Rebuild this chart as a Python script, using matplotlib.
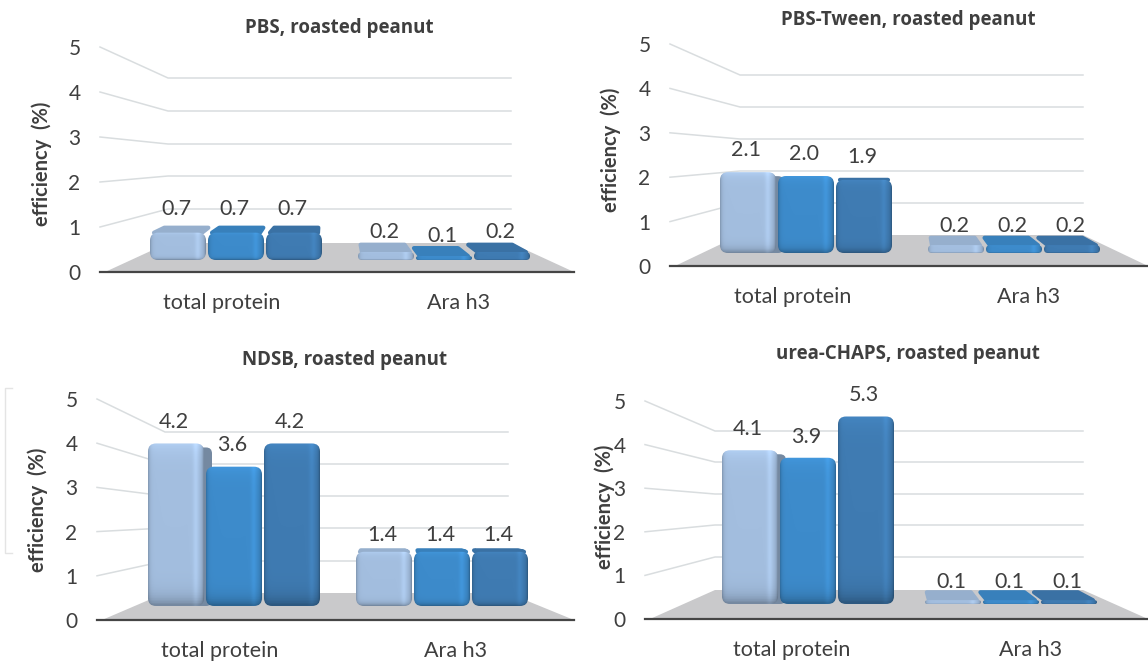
import numpy as np
import matplotlib
matplotlib.use('Agg')
import matplotlib.pyplot as plt
from matplotlib.patches import FancyBboxPatch, Polygon

plt.rcParams['font.family'] = ['Lato', 'DejaVu Sans']

W, H = 1148, 661

## values
categories = ['total protein', 'Ara h3']
pbs_values = [[0.7, 0.7, 0.7], [0.2, 0.1, 0.2]]
tween_values = [[2.1, 2.0, 1.9], [0.2, 0.2, 0.2]]
ndsb_values = [[4.2, 3.6, 4.2], [1.4, 1.4, 1.4]]
urea_values = [[4.1, 3.9, 5.3], [0.1, 0.1, 0.1]]
y_ticks = [0, 1, 2, 3, 4, 5]

titles = ['PBS, roasted peanut', 'PBS-Tween, roasted peanut',
          'NDSB, roasted peanut', 'urea-CHAPS, roasted peanut']

bar_colors = ['#A3BEDF', '#3D8BCB', '#3F7BB2']
text_color = '#3F3F3F'
grid_color = '#D9DDDF'

# layout of every panel in pixels of the picture, label_gap is in points per group
panels = [
  dict(values=pbs_values, title=titles[0], title_xy=(339, 28), left=100, right=574, y0=272, y5=47,
       wall=(168, 511), wall_y=[243, 209, 176, 144, 111, 78], base=260, scale=39,
       groups=(150, 358), cat_x=(222, 459), ylabel=(42, 164), label_gap=(10, 7)),
  dict(values=tween_values, title=titles[1], title_xy=(908, 20), left=670, right=1148, y0=266, y5=44,
       wall=(740, 1083), wall_y=[235, 203, 171, 139, 107, 75], base=253, scale=38.5,
       groups=(720, 928), cat_x=(793, 1029), ylabel=(611, 150), label_gap=(9, 7)),
  dict(values=ndsb_values, title=titles[2], title_xy=(345, 360), left=97, right=574, y0=620, y5=399,
       wall=(165, 508), wall_y=[593, 561, 528, 496, 464, 432], base=606, scale=38.7,
       groups=(148, 356), cat_x=(220, 456), ylabel=(38, 510), label_gap=(8.5, 5)),
  dict(values=urea_values, title=titles[3], title_xy=(908, 354), left=645, right=1148, y0=619, y5=401,
       wall=(715, 1083), wall_y=[590, 557, 525, 494, 462, 431], base=604, scale=37.5,
       groups=(722, 925), cat_x=(792, 1031), ylabel=(605, 507), label_gap=(8, 6)),
]

BAR_W = 58
Y_MAX = 5  # the axis stops at 5, taller bars get cut there


def rect_for(x0, x1, y_bottom, y_top):
  return [x0/W, 1 - y_bottom/H, (x1 - x0)/W, (y_bottom - y_top)/H]


def shaded(color, nx=60, ny=60):
  # soft bevel: dark rim all round, thin highlight near the right edge
  rgb = np.array(matplotlib.colors.to_rgb(color))
  xs = np.linspace(0, 1, nx)
  ys = np.linspace(0, 1, ny)
  px = 1 - 0.18*np.exp(-xs/0.03) - 0.25*np.exp(-(1 - xs)/0.03) + 0.08*np.exp(-((xs - 0.86)/0.05)**2)
  py = 1 - 0.28*np.exp(-ys/0.05) + 0.08*np.exp(-((1 - ys)/0.06))
  img = np.clip(np.outer(py, px)[..., None]*rgb, 0, 1)
  return img


def top_depth(value):
  # top face shows more the lower the bar is
  return max(0, 10*(1 - value/2.0))


def draw_bar(ax, x, value, color, scale, mid_x, next_value):
  v = min(value, Y_MAX)
  h = v*scale
  rgb = np.array(matplotlib.colors.to_rgb(color))
  depth = top_depth(v)
  if depth > 0:
    shift = (mid_x - (x + BAR_W/2))*0.08*depth/10
    top_col = rgb*0.92
    top = Polygon([(x + 4, v), (x + BAR_W - 6, v),
                   (x + BAR_W - 8 + shift, v + (depth - 1.5)/scale), (x + 6 + shift, v + (depth - 1.5)/scale)],
                  closed=True, facecolor=top_col, edgecolor=top_col, lw=3, joinstyle='round', zorder=3)
    ax.add_patch(top)
  # side face of a tall bar standing beside a lower one
  if next_value is not None and value - next_value > 0.1 and v > 2:
    side = FancyBboxPatch((x + 8, 0), BAR_W - 2, v - 4/scale, boxstyle='round,pad=0,rounding_size=6',
                          mutation_aspect=1/scale, facecolor=rgb*0.72, edgecolor='none', zorder=3)
    ax.add_patch(side)
  round_px = min(8, h/2)
  box = FancyBboxPatch((x, 0), BAR_W - 2, v, boxstyle='round,pad=0,rounding_size=%f' % round_px,
                       mutation_aspect=1/scale, facecolor='none', edgecolor='none', zorder=4)
  ax.add_patch(box)
  im = ax.imshow(shaded(color), extent=(x, x + BAR_W - 2, 0, v), origin='lower', aspect='auto', zorder=4)
  im.set_clip_path(box)


fig = plt.figure(figsize=(W/100, H/100), dpi=100)

# one layer in picture pixels for the fake 3D walls and floor
bg = fig.add_axes([0, 0, 1, 1])
bg.set_xlim(0, W)
bg.set_ylim(H, 0)
bg.axis('off')

# faint bracket left of the NDSB panel
bg.plot([12, 5, 5, 12], [388, 388, 553, 553], color='#E4E4E4', lw=1)

for p in panels:
  wl, wr = p['wall']
  y_front = np.linspace(p['y0'], p['y5'], 6)

  # floor
  bg.add_patch(Polygon([(p['left'] + 5, p['y0']), (wl, p['wall_y'][0]), (wr, p['wall_y'][0]), (574 if p['right'] < 600 else 1148, p['y0'])],
                       closed=True, facecolor='#C9C9CB', edgecolor='none', zorder=1))
  # gridlines: slanted on the side wall, flat on the back wall
  for i in range(1, 6):
    bg.plot([p['left'], wl, wr], [y_front[i], p['wall_y'][i], p['wall_y'][i]], color=grid_color, lw=1.1, zorder=1)

  # axes with the ticks on the front edge
  ax = fig.add_axes(rect_for(p['left'], p['right'], p['y0'], p['y5']))
  ax.patch.set_visible(False)
  ax.set_xlim(p['left'], p['right'])
  ax.set_ylim(0, 5)
  for s in ['top', 'left', 'right']:
    ax.spines[s].set_visible(False)
  ax.spines['bottom'].set_color('#454545')
  ax.spines['bottom'].set_linewidth(1.6)
  ax.set_yticks(y_ticks)
  ax.set_xticks(p['cat_x'])
  ax.set_xticklabels(categories)
  ax.tick_params(axis='y', length=0, pad=14, labelsize=15, labelcolor=text_color)
  ax.tick_params(axis='x', length=0, pad=15, labelsize=15.5, labelcolor=text_color)

  # bars have a smaller scale than the front axis, they stand further back
  bar_ax = fig.add_axes(rect_for(p['left'], p['right'], p['base'], p['base'] - 6*p['scale']))
  bar_ax.set_xlim(p['left'], p['right'])
  bar_ax.set_ylim(0, 6)
  bar_ax.axis('off')
  mid_x = (p['wall'][0] + p['wall'][1])/2
  for g, group in enumerate(p['values']):
    for b, v in enumerate(group):
      x = p['groups'][g] + b*BAR_W
      next_v = group[b + 1] if b < len(group) - 1 else None
      draw_bar(bar_ax, x, v, bar_colors[b], p['scale'], mid_x, next_v)
      bar_ax.annotate('%.1f' % v, (x + BAR_W/2, min(v, Y_MAX)), xytext=(-2, p['label_gap'][g]), textcoords='offset points',
                      ha='center', va='bottom', fontsize=15.5, color=text_color, zorder=6)
  bar_ax.set_xlim(p['left'], p['right'])
  bar_ax.set_ylim(0, 6)

  bg.text(p['title_xy'][0], p['title_xy'][1], p['title'], ha='center', va='center',
          fontsize=13.5, fontweight='bold', color=text_color, family='Open Sans')
  bg.text(p['ylabel'][0], p['ylabel'][1], 'efficiency  (%)', rotation=90, ha='center', va='center',
          fontsize=14.5, fontweight='bold', color=text_color)

fig.savefig('out.png', dpi=100)
